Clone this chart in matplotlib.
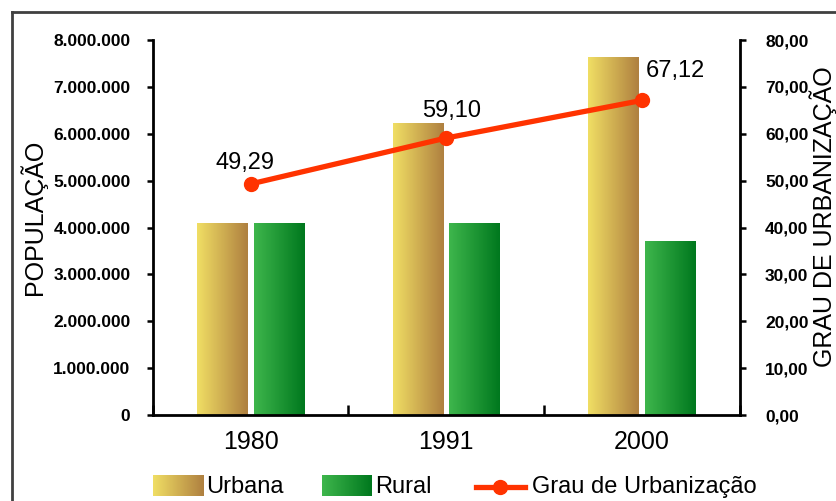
import numpy as np
import matplotlib
matplotlib.use("Agg")
import matplotlib.pyplot as plt
from matplotlib.lines import Line2D
from matplotlib.ticker import FuncFormatter

# dados
anos = ["1980", "1991", "2000"]
urbana = [4090000, 6230000, 7630000]
rural = [4090000, 4090000, 3710000]
grau = [49.29, 59.10, 67.12]
grau_labels = ["49,29", "59,10", "67,12"]
label_offsets = [(-4, 15), (4, 19.5), (24, 21)]

plt.rcParams['font.family'] = ['Liberation Sans', 'DejaVu Sans']

cor_urbana = [(240, 222, 100), (175, 128, 64)]
cor_rural = [(62, 182, 76), (0, 120, 30)]
cor_linha = '#FF3300'


def gradiente(cores, n=64):
    a = np.array(cores[0]) / 255.0
    b = np.array(cores[1]) / 255.0
    t = np.linspace(0, 1, n)[:, None]
    return (a + (b - a) * t)[None, :, :]


fig = plt.figure(figsize=(8.36, 5.01), dpi=100)
W, H = 836, 501
ax = fig.add_axes([152.7 / W, 1 - 415 / H, (740 - 152.7) / W, (415 - 40) / H])

x = np.arange(len(anos))
largura = 0.26
desloc = 0.145
barras_u = ax.bar(x - desloc, urbana, largura, color='none', edgecolor='none', zorder=2)
barras_r = ax.bar(x + desloc, rural, largura, color='none', edgecolor='none', zorder=2)

for barras, cores in [(barras_u, cor_urbana), (barras_r, cor_rural)]:
    img = gradiente(cores)
    for p in barras:
        x0, y0 = p.get_x(), p.get_y()
        im = ax.imshow(img, extent=[x0, x0 + p.get_width(), y0, y0 + p.get_height()],
                       aspect='auto', zorder=2, interpolation='bilinear')
        im.set_clip_path(p)

ax.set_xlim(-0.5, 2.5)
ax.set_ylim(0, 8000000)
ax.set_yticks(np.arange(0, 8000001, 1000000))
ax.yaxis.set_major_formatter(FuncFormatter(lambda v, pos: f"{int(v):,}".replace(",", ".")))
ax.tick_params(axis='y', direction='out', length=4, width=1.8, pad=12,
               labelsize=12.5)
for t in ax.get_yticklabels():
    t.set_fontweight('bold')

ax.set_xticks(x)
ax.set_xticklabels(anos, fontsize=18)
ax.tick_params(axis='x', length=0, pad=11)
ax.set_xticks([-0.5, 0.5, 1.5, 2.5], minor=True)
ax.tick_params(axis='x', which='minor', direction='in', length=7, width=1.8)

ax.spines['top'].set_visible(False)
ax.spines['right'].set_visible(False)
ax.spines['left'].set_linewidth(2)
ax.spines['bottom'].set_linewidth(2)

ax2 = ax.twinx()
ax2.plot(x, grau, color=cor_linha, linewidth=3.8, marker='o', markersize=10, zorder=5)
ax2.set_ylim(0, 80)
ax2.set_yticks(np.arange(0, 81, 10))
ax2.yaxis.set_major_formatter(FuncFormatter(lambda v, pos: f"{v:.2f}".replace(".", ",")))
ax2.tick_params(axis='y', direction='out', length=4, width=1.8, pad=14, labelsize=12.5)
for t in ax2.get_yticklabels():
    t.set_fontweight('bold')
for s in ['top', 'left', 'bottom']:
    ax2.spines[s].set_visible(False)
ax2.spines['right'].set_linewidth(2)

for xi, yi, lab, off in zip(x, grau, grau_labels, label_offsets):
    ax2.annotate(lab, (xi, yi), xytext=off, textcoords='offset points',
                 ha='center', va='center', fontsize=17)

fig.text(33 / W, 1 - 217 / H, "POPULAÇÃO", rotation=90, ha='center', va='center', fontsize=18)
fig.text(823 / W, 1 - 217 / H, "GRAU DE URBANIZAÇÃO", rotation=90, ha='center', va='center', fontsize=18)

# legenda desenhada a mao
for xl, cores, nome in [(153, cor_urbana, "Urbana"), (322, cor_rural, "Rural")]:
    lax = fig.add_axes([xl / W, 1 - 496 / H, 50 / W, 21 / H])
    lax.imshow(gradiente(cores), aspect='auto', interpolation='bilinear')
    lax.set_axis_off()
    fig.text((xl + 53) / W, 1 - 487 / H, nome, ha='left', va='center', fontsize=17)

fig.add_artist(Line2D([476 / W, 525 / W], [1 - 487 / H, 1 - 487 / H], transform=fig.transFigure,
                      color=cor_linha, linewidth=3.8))
fig.add_artist(Line2D([500 / W], [1 - 487 / H], transform=fig.transFigure,
                      color=cor_linha, marker='o', markersize=10))
fig.text(532 / W, 1 - 487 / H, "Grau de Urbanização", ha='left', va='center', fontsize=17)

# moldura
fig.add_artist(Line2D([12 / W, 1], [1 - 12 / H, 1 - 12 / H], transform=fig.transFigure,
                      color='#404040', linewidth=2))
fig.add_artist(Line2D([12 / W, 12 / W], [1 - 12 / H, 0], transform=fig.transFigure,
                      color='#404040', linewidth=2))

fig.savefig("out.png", dpi=100)
